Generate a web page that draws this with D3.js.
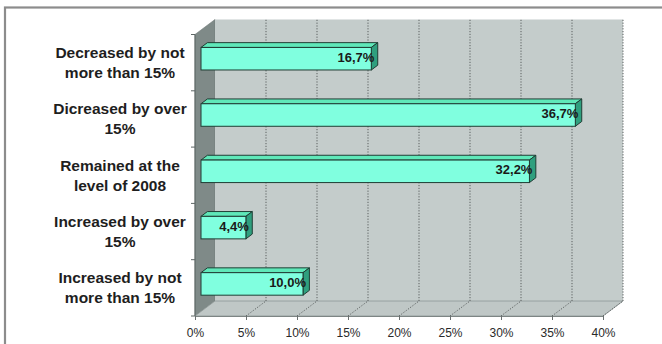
<!DOCTYPE html>
<html>
<head>
<meta charset="utf-8">
<script src="https://cdn.jsdelivr.net/npm/d3@7/dist/d3.min.js"></script>
<style>
  html, body { margin: 0; padding: 0; background: #fff; }
  svg { display: block; font-family: "Liberation Sans", Arial, sans-serif; }
</style>
</head>
<body>
<svg id="chart" width="662" height="344"></svg>
<script>
// Survey answers, listed top to bottom
const categories = [
  ["Decreased by not", "more than 15%"],
  ["Dicreased by over", "15%"],
  ["Remained at the", "level of 2008"],
  ["Increased by over", "15%"],
  ["Increased by not", "more than 15%"]
];
const shares = [16.7, 36.7, 32.2, 4.4, 10.0];
const valueLabels = ["16,7%", "36,7%", "32,2%", "4,4%", "10,0%"];
const xTicks = [0, 5, 10, 15, 20, 25, 30, 35, 40];

const svg = d3.select("#chart");

// Outer frame
svg.append("rect")
  .attr("x", 5).attr("y", 7.5).attr("width", 680).attr("height", 360)
  .attr("fill", "none").attr("stroke", "#8c8c8c").attr("stroke-width", 2.2);

// Front plane scales; the plot box recedes by (depthX, depthY)
const x = d3.scaleLinear().domain([0, 40]).range([195, 603]);
const keys = categories.map(c => c.join(" "));
const y = d3.scaleBand().domain(keys).range([34.5, 316]);
const depthX = 20, depthY = -15;
const off = f => [depthX * f, depthY * f];

const x0 = x(0), x1 = x(40), yTop = y.range()[0], yBot = y.range()[1];
const pts = a => a.map(p => p.join(",")).join(" ");

// Left wall
svg.append("polygon")
  .attr("points", pts([[x0, yTop], [x0 + depthX, yTop + depthY], [x0 + depthX, yBot + depthY], [x0, yBot]]))
  .attr("fill", "#7f8a88").attr("stroke", "#6d7775").attr("stroke-width", 0.6);

// Back wall
svg.append("rect")
  .attr("x", x0 + depthX).attr("y", yTop + depthY)
  .attr("width", x1 - x0).attr("height", yBot - yTop)
  .attr("fill", "#c4cccb");

// Floor
svg.append("polygon")
  .attr("points", pts([[x0, yBot], [x1, yBot], [x1 + depthX, yBot + depthY], [x0 + depthX, yBot + depthY]]))
  .attr("fill", "#bfc7c6").attr("stroke", "#8e9897").attr("stroke-width", 0.8);

// Gridlines: dotted along the floor and up the back wall
const grid = svg.append("g").attr("stroke", "#5a5f5f").attr("stroke-width", 1)
  .attr("stroke-dasharray", "1.2,1.6").attr("fill", "none");
xTicks.filter(t => t > 0).forEach(t => {
  const xf = x(t);
  grid.append("line").attr("x1", xf).attr("y1", yBot)
    .attr("x2", xf + depthX).attr("y2", yBot + depthY);
  grid.append("line").attr("x1", xf + depthX).attr("y1", yBot + depthY)
    .attr("x2", xf + depthX).attr("y2", yTop + depthY);
});

// Axes on the front plane
const xAxis = d3.axisBottom(x).tickValues(xTicks).tickFormat(d => d + "%")
  .tickSize(4).tickPadding(8).tickSizeOuter(0);
const gx = svg.append("g").attr("transform", `translate(0,${yBot})`).call(xAxis);
gx.select(".domain").attr("stroke", "#7d8584");
gx.selectAll(".tick line").attr("stroke", "#6a7070");
gx.selectAll("text").attr("font-size", 12).attr("fill", "#2a2a2a")
  .attr("font-family", "Liberation Sans, Arial, sans-serif");

svg.append("line").attr("x1", x0).attr("x2", x0).attr("y1", yTop).attr("y2", yBot)
  .attr("stroke", "#5d6665").attr("stroke-width", 1);
const edges = keys.map(k => y(k)).concat([yBot]);
svg.append("g").selectAll("line").data(edges).join("line")
  .attr("x1", x0 - 4).attr("x2", x0).attr("y1", d => d).attr("y2", d => d)
  .attr("stroke", "#5d6665");

// Bars: front face sits at 30% of the depth, bars are 32% deep
const fFront = 0.3, fBack = 0.62;
const [fdx, fdy] = off(fFront);
const [bdx, bdy] = off(fBack - fFront);
const barTop = k => y(k) + y.bandwidth() * 0.31 + fdy;
const barH = y.bandwidth() * 0.4;

const bars = svg.append("g").selectAll("g").data(keys).join("g");
bars.each(function(k, i) {
  const g = d3.select(this);
  const xl = x(0) + fdx, xr = x(shares[i]) + fdx;
  const t = barTop(k), b = t + barH;
  // top face
  g.append("polygon")
    .attr("points", pts([[xl, t], [xr, t], [xr + bdx, t + bdy], [xl + bdx, t + bdy]]))
    .attr("fill", "#5fe8b9").attr("stroke", "#1f3d34").attr("stroke-width", 1)
    .attr("stroke-linejoin", "round");
  // end face
  g.append("polygon")
    .attr("points", pts([[xr, t], [xr + bdx, t + bdy], [xr + bdx, b + bdy], [xr, b]]))
    .attr("fill", "#2f9f7e").attr("stroke", "#1f3d34").attr("stroke-width", 1)
    .attr("stroke-linejoin", "round");
  // front face
  g.append("rect")
    .attr("x", xl).attr("y", t).attr("width", xr - xl).attr("height", barH)
    .attr("fill", "#80ffdf").attr("stroke", "#1f3d34").attr("stroke-width", 1);
  // value label
  g.append("text")
    .attr("x", xr + 3).attr("y", t + barH / 2 + 3)
    .attr("text-anchor", "end")
    .attr("font-size", 13).attr("font-weight", "bold").attr("fill", "#1a1a1a")
    .text(valueLabels[i]);
});

// Category labels, two centred lines each
const labels = svg.append("g").attr("font-size", 15.5).attr("font-weight", "bold")
  .attr("fill", "#1e1e1e").attr("text-anchor", "middle");
keys.forEach((k, i) => {
  const cy = y(k) + y.bandwidth() / 2;
  const txt = labels.append("text").attr("x", 120).attr("y", cy - 4.5);
  txt.append("tspan").attr("x", 120).text(categories[i][0]);
  txt.append("tspan").attr("x", 120).attr("dy", 20).text(categories[i][1]);
});
</script>
</body>
</html>
